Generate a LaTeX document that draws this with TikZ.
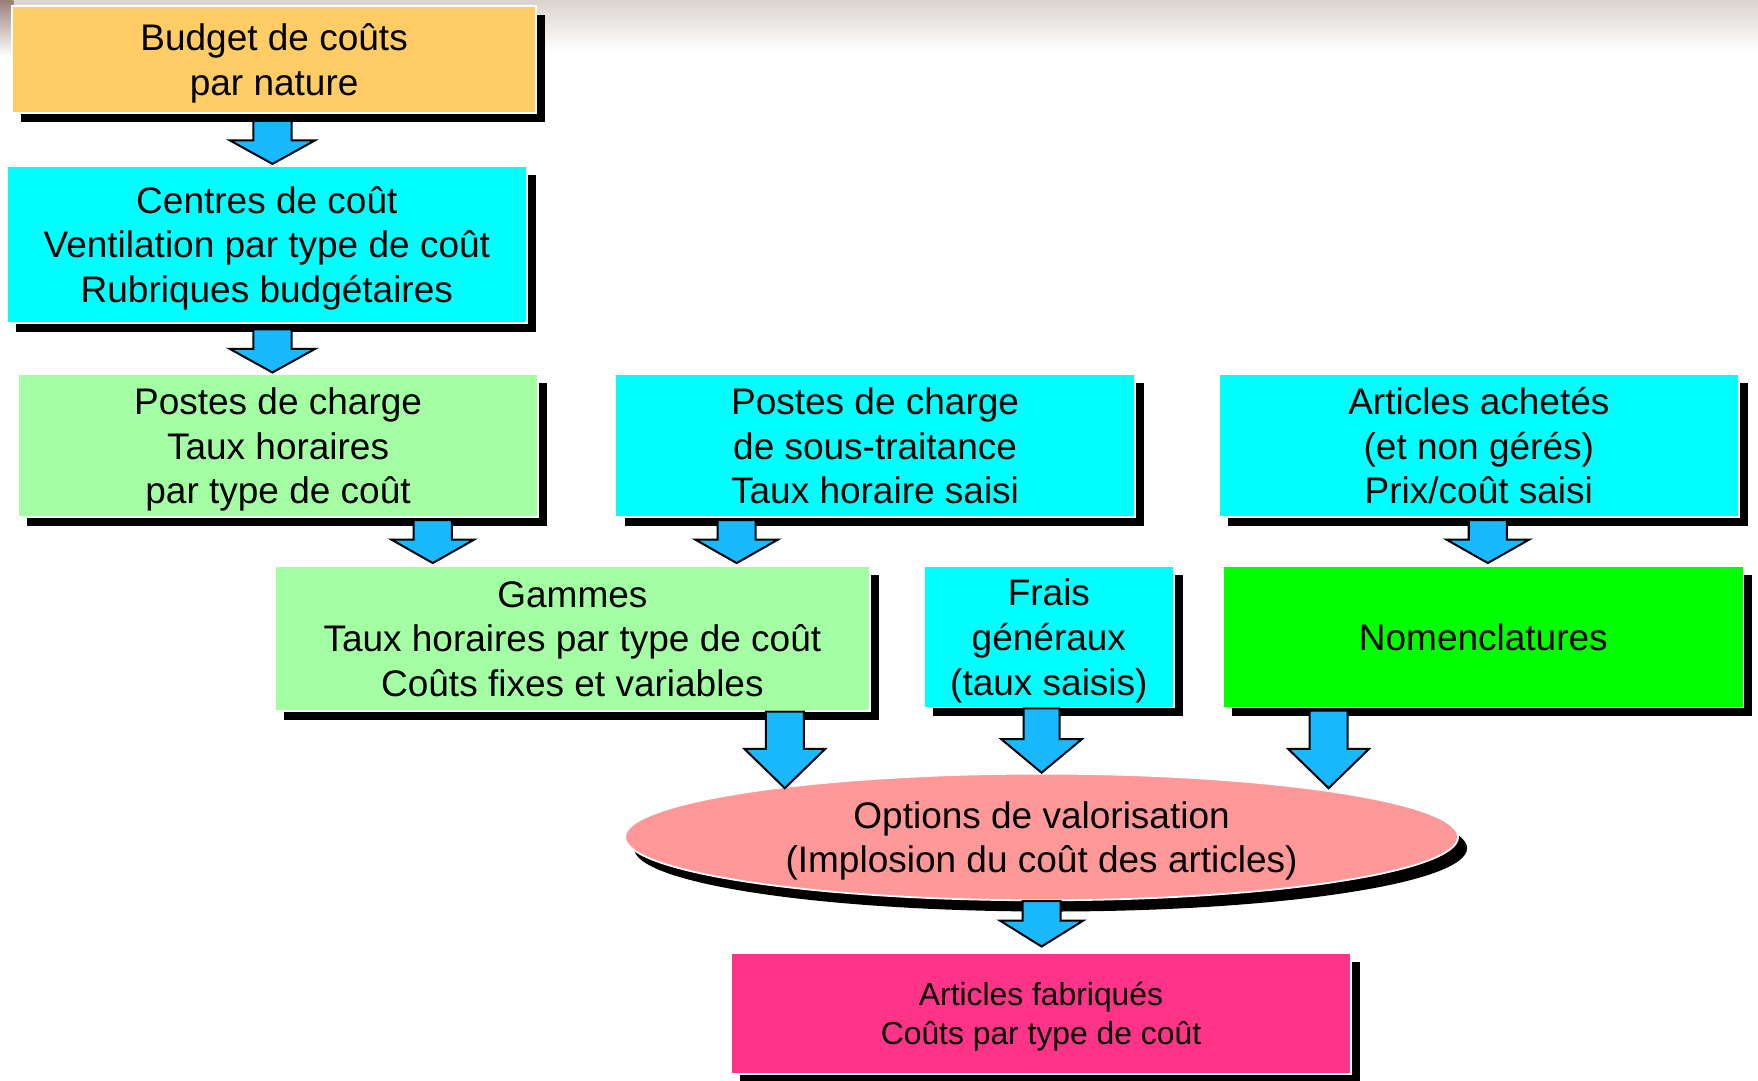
\documentclass[tikz,border=0pt]{standalone}
\usepackage{fontspec}
\setmainfont{Liberation Sans}
\usetikzlibrary{shadows,shapes.geometric,calc}
\definecolor{corange}{HTML}{FFCC66}
\definecolor{ccyan}{HTML}{00FFFF}
\definecolor{clgreen}{HTML}{A4FFA4}
\definecolor{cgreen}{HTML}{00FF00}
\definecolor{csalmon}{HTML}{FF9999}
\definecolor{cpink}{HTML}{FF3388}
\definecolor{cblue}{HTML}{1AB8FF}
\definecolor{ctopbg}{HTML}{DAD3CE}
\definecolor{ccorner}{HTML}{9A7E78}
\tikzset{
  box/.style={rectangle, draw=white, line width=0.8pt, inner sep=0pt, align=center,
    font=\fontsize{16.5}{20}\selectfont, text depth=0pt,
    drop shadow={shadow xshift=4pt, shadow yshift=-4pt, opacity=1, fill=black}},
  ovalbox/.style={ellipse, draw=white, line width=0.8pt, inner sep=0pt, align=center,
    font=\fontsize{16.5}{20}\selectfont, text depth=0pt,
    drop shadow={shadow xshift=4pt, shadow yshift=-5pt, opacity=1, fill=black}},
  lineone/.style={text height=12pt},
  linetwo/.style={text height=32pt},
  linethree/.style={text height=52pt},
  barrowstyle/.style={fill=cblue, draw=black, line width=0.9pt, line join=miter}
}
% #1 start, #2 tip, #3 shaft half width (pt), #4 head half width (pt), #5 head length (pt)
\newcommand\blockarr[5]{%
  \draw[barrowstyle] let \p1=#1, \p2=#2 in
    (\x1-#3pt,\y1) -- (\x1-#3pt,\y2+#5pt) -- (\x1-#4pt,\y2+#5pt) -- (\x1,\y2)
    -- (\x1+#4pt,\y2+#5pt) -- (\x1+#3pt,\y2+#5pt) -- (\x1+#3pt,\y1) -- cycle;}
\begin{document}
\begin{tikzpicture}[x=0.5pt,y=-0.5pt]
\useasboundingbox (0,0) rectangle (1568,964);
\fill[white] (0,0) rectangle (1568,964);
\shade[top color=ctopbg, bottom color=white] (0,0) rectangle (1568,46);
\shade[top color=ccorner, bottom color=white] (0,0) rectangle (12,50);

\node[box, linetwo, fill=corange, minimum width=233.5pt, minimum height=48pt] (b1) at (244.5,53)
  {Budget de coûts\\par nature};
\node[box, linethree, fill=ccyan, minimum width=232pt, minimum height=70pt] (b2) at (238,218)
  {Centres de coût\\Ventilation par type de coût\\Rubriques budgétaires};
\node[box, linethree, fill=clgreen, minimum width=232pt, minimum height=63.5pt] (b3) at (248,397.5)
  {Postes de charge\\Taux horaires\\par type de coût};
\node[box, linethree, fill=ccyan, minimum width=231.5pt, minimum height=63.5pt] (b4) at (780.5,397.5)
  {Postes de charge\\de sous-traitance\\Taux horaire saisi};
\node[box, linethree, fill=ccyan, minimum width=232pt, minimum height=63.5pt] (b5) at (1319,397.5)
  {Articles achetés\\(et non gérés)\\Prix/coût saisi};
\node[box, linethree, fill=clgreen, minimum width=265.5pt, minimum height=64.5pt] (b6) at (510.5,569.5)
  {Gammes\\Taux horaires par type de coût\\Coûts fixes et variables};
\node[box, linethree, fill=ccyan, minimum width=111.5pt, minimum height=63pt] (b7) at (935.5,568)
  {Frais\\généraux\\(taux saisis)};
\node[box, lineone, fill=cgreen, minimum width=232pt, minimum height=63pt] (b8) at (1323,568)
  {Nomenclatures};
\node[ovalbox, linetwo, fill=csalmon, minimum width=371.5pt, minimum height=56.5pt] (ell) at (929,746.5)
  {Options de valorisation\\(Implosion du coût des articles)};
\node[box, fill=cpink, minimum width=276.5pt, minimum height=54pt,
  font=\fontsize{14.2}{17.5}\selectfont, text height=27.9pt] (b9) at (928.5,904)
  {Articles fabriqués\\Coûts par type de coût};

\blockarr{($(b1.south)+(-1.5,6)$)}{($(b2.north)+(0,-1)$)}{8.5}{19}{10.5}
\blockarr{($(b2.south)+(5,5)$)}{($(b3.north)+(0,-1)$)}{8.5}{19}{10.5}
\blockarr{($(b3.south)+(138,2)$)}{($(b6.north)+(0,-2)$)}{8.5}{18.5}{10.5}
\blockarr{($(b4.south)+(-123.5,2)$)}{($(b6.north)+(0,-2)$)}{8.5}{18.5}{10.5}
\blockarr{($(b5.south)+(8,2)$)}{($(b8.north)+(0,-2)$)}{8.5}{18.5}{10.5}
\blockarr{($(b6.south)+(189.5,0)$)}{($(ell.center)+(0,-43.5)$)}{8.5}{18}{17.5}
\blockarr{($(b7.south)+(-6.5,0)$)}{(ell.north)}{8}{18}{15}
\blockarr{($(b8.south)+(-138,2)$)}{($(ell.center)+(0,-43.5)$)}{8.5}{18}{17.5}
\blockarr{(ell.south)}{($(b9.north)+(0,-5)$)}{8.5}{18.5}{11.5}
\end{tikzpicture}
\end{document}
